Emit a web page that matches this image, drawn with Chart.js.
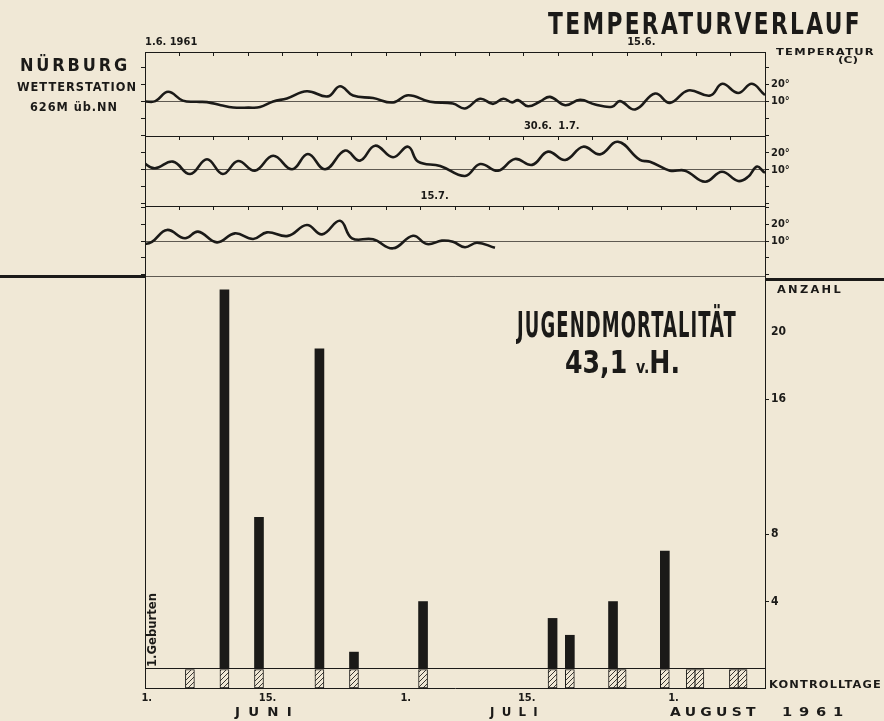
<!DOCTYPE html>
<html>
<head>
<meta charset="utf-8">
<script src="https://cdn.jsdelivr.net/npm/chart.js@4.4.1/dist/chart.umd.min.js"></script>
<style>
    body { margin: 0; background: #f0e8d6; }
    #page { position: relative; width: 884px; height: 721px; overflow: hidden; background: #f0e8d6; color: #1b1a18; }
    canvas { position: absolute; left: 0; }
    .t { position: absolute; white-space: nowrap; line-height: 1; font-weight: bold; transform-origin: 0 0; }
    .narrow { font-family: "Liberation Sans Narrow", "DejaVu Sans Condensed", "Roboto Condensed", sans-serif; }
    .wide { font-family: "DejaVu Sans", Verdana, sans-serif; }
    .bar-line { position: absolute; background: #1b1a18; }
</style>
</head>
<body>
<div id="page">
    <canvas id="row1"></canvas>
    <canvas id="row2"></canvas>
    <canvas id="row3"></canvas>
    <canvas id="bars"></canvas>

    <div class="bar-line" style="left:0;top:274.5px;width:145px;height:3px"></div>
    <div class="bar-line" style="left:765px;top:277.5px;width:119px;height:3px"></div>

    <div class="t narrow" data-w="314" style="left:548px;top:8px;font-size:31px;letter-spacing:3px">TEMPERATURVERLAUF</div>
    <div class="t narrow" data-w="220" style="left:517px;top:307px;font-size:36px;letter-spacing:2px">JUGENDMORTALITÄT</div>
    <div class="t narrow" data-w="115" style="left:565px;top:346px;font-size:32px">43,1 <span style="font-size:18px">v.</span>H.</div>

    <div class="t wide" data-w="110" style="left:20px;top:57px;font-size:17px;letter-spacing:3px">NÜRBURG</div>
    <div class="t wide" data-w="120" style="left:17px;top:82px;font-size:11.5px;letter-spacing:1px">WETTERSTATION</div>
    <div class="t wide" data-w="88" style="left:30px;top:102px;font-size:11.5px;letter-spacing:1px">626M üb.NN</div>

    <div class="t wide" data-w="99" style="left:776px;top:48px;font-size:9px;letter-spacing:1px">TEMPERATUR</div>
    <div class="t wide" data-w="20" style="left:838px;top:56px;font-size:9px">(C)</div>
    <div class="t wide" data-w="66" style="left:777px;top:285px;font-size:10px;letter-spacing:2px">ANZAHL</div>
    <div class="t wide" data-w="113" style="left:769px;top:680px;font-size:10px;letter-spacing:1px">KONTROLLTAGE</div>

    <div class="t wide" data-w="65" style="left:235px;top:705px;font-size:13px;letter-spacing:8px">JUNI</div>
    <div class="t wide" data-w="55" style="left:490px;top:705px;font-size:13px;letter-spacing:8px">JULI</div>
    <div class="t wide" data-w="90" style="left:670px;top:705px;font-size:13px;letter-spacing:4px">AUGUST</div>
    <div class="t wide" data-w="68" style="left:782px;top:705px;font-size:13px;letter-spacing:6px">1961</div>

    <div class="t wide" data-w="74" data-rot="1" style="left:147px;top:667px;font-size:11.5px">1.Geburten</div>
</div>

<script>
// day numbers: 1 = 1. Juni 1961
const tempDays = [
    1.0, 1.3, 1.67, 2.1, 2.5, 2.8, 3.2, 3.56, 4.0, 4.34, 4.72, 5.12, 5.7, 6.31, 6.66, 7.04, 7.62, 8.2, 8.64, 9.28,
    9.94, 10.29, 10.73, 11.1, 11.4, 11.66, 11.83, 12.12, 12.47, 12.76, 13.2, 13.63, 14.07, 14.56, 14.79, 15.23, 15.81, 16.24, 16.77, 17.41,
    17.76, 18.22, 18.62, 19.0, 19.29, 19.81, 20.31, 20.8, 21.26, 21.7, 22.19, 22.72, 23.27, 23.73, 24.23, 24.81, 25.24, 25.68, 26.2, 26.64,
    26.93, 27.57, 28.29, 28.73, 29.25, 29.74, 30.24, 30.7, 31.2, 31.72, 32.21, 32.73, 33.37, 33.66, 34.24, 34.68, 35.26, 35.75, 36.22, 36.51,
    36.77, 37.0, 37.2, 37.64, 38.16, 38.54, 39.09, 39.61, 40.14, 40.54, 41.15, 41.7, 42.14, 42.66, 43.01, 43.62, 44.2, 44.78, 45.19, 45.62,
    45.94, 46.29, 46.64, 47.16
];
const tempValues = [
    10, 10.2, 15.7, 10.5, 9.8, 9.6, 7.8, 6.5, 6.4, 6.7, 10, 11.8, 16, 13, 19, 13.5, 12, 9.4, 13.7, 9.8,
    8.8, 5.9, 11.6, 8.6, 11.6, 9.5, 10.8, 7.2, 10, 12.7, 7.8, 11, 8.2, 6.9, 10.2, 5.3, 14.7, 9.2, 16.5, 13.5,
    20.4, 15, 20.4, 13.8, 11, 14.9, 7.6, 16.3, 7.6, 15.3, 9.6, 18.4, 10.4, 19.4, 10.4, 21.4, 15.5, 24.3, 17.5, 23.7,
    14.9, 12.4, 6.5, 13.5, 9.6, 16.5, 13, 20.8, 15.9, 23.7, 19.2, 26.6, 15.9, 14.9, 9.6, 9.6, 3.1, 9, 3.5, 6,
    12, 8.5, 9.5, 16.5, 11.6, 15.5, 9.2, 14.5, 11.2, 15.1, 13, 19.4, 13.9, 21.9, 11.6, 11, 5.7, 13.1, 8.2, 10.2,
    9.5, 6.3, 9, 6
];
const tempRowStart = [1, 19, 37];
const tempRowEnd = [19, 37, 55];
const tempLabelDays = [1, 15, 30, 31, 45];
const tempLabelTexts = ['1.6. 1961', '15.6.', '30.6.', '1.7.', '15.7.'];
const tempTicks = [-10, 0, 10, 20, 30];
const tempLabelValues = [10, 20];

const barDays = [10, 14, 21, 25, 33, 48, 50, 55, 61];
const barCounts = [22.5, 9, 19, 1, 4, 3, 2, 4, 7];
const controlDays = [6, 10, 14, 21, 25, 33, 48, 50, 55, 56, 61, 64, 65, 69, 70];
const countTicks = [4, 8, 16, 20];
const dateTickDays = [1, 15, 31, 45, 62];
const dateTickLabels = ['1.', '15.', '1.', '15.', '1.'];

const INK = '#1b1a18';
const GRAY = '#5f5a52';
const BG = '#f0e8d6';
const NARROW = '"Liberation Sans Narrow", "DejaVu Sans Condensed", "Roboto Condensed", sans-serif';

// canvas placement of the three temperature strips
const rowBoxes = [
    { top: 30, height: 120, areaTop: 52, areaBottom: 136, yMin: -10.3, yMax: 39.1 },
    { top: 110, height: 110, areaTop: 136, areaBottom: 206, yMin: -11.2, yMax: 30 },
    { top: 180, height: 110, areaTop: 206, areaBottom: 276, yMin: -10.6, yMax: 30.6 },
];

Chart.defaults.font.family = NARROW;
Chart.defaults.color = INK;

function baseOptions() {
    return {
        responsive: false,
        animation: false,
        events: [],
        layout: { padding: 0 },
        plugins: { legend: { display: false }, tooltip: { enabled: false } },
    };
}

function makeTempRow(canvasId, r) {
    const lo = tempRowStart[r];
    const hi = tempRowEnd[r];
    const box = rowBoxes[r];
    const points = tempDays
        .map((d, i) => ({ x: d, y: tempValues[i] }))
        .filter((p) => p.x >= lo - 0.7 && p.x <= hi + 0.7);

    const cv = document.getElementById(canvasId);
    cv.width = 884;
    cv.height = box.height;
    cv.style.top = box.top + 'px';

    const dayTicks = [];
    for (let d = lo; d <= hi; d++) dayTicks.push({ value: d });

    return new Chart(cv, {
        type: 'line',
        data: {
            datasets: [
                {
                    data: points,
                    xAxisID: 'x',
                    yAxisID: 'y',
                    borderColor: INK,
                    borderWidth: 2.6,
                    pointRadius: 0,
                    tension: 0.42,
                    fill: false,
                },
            ],
        },
        options: {
            ...baseOptions(),
            scales: {
                x: {
                    type: 'linear',
                    position: 'top',
                    min: lo,
                    max: hi,
                    offset: false,
                    afterFit: (s) => { s.height = box.areaTop - box.top; },
                    afterBuildTicks: (s) => { s.ticks = dayTicks.slice(); },
                    grid: { drawOnChartArea: false, tickLength: -4, tickColor: INK, lineWidth: 1 },
                    border: { color: INK, width: 1 },
                    ticks: {
                        autoSkip: false,
                        maxRotation: 0,
                        align: 'start',
                        padding: 7,
                        color: INK,
                        font: { size: 11, weight: 'bold' },
                        callback: (v) => {
                            const k = tempLabelDays.indexOf(v);
                            return k >= 0 && v >= lo && v < hi ? tempLabelTexts[k] : '';
                        },
                    },
                },
                xb: {
                    type: 'linear',
                    position: 'bottom',
                    min: lo,
                    max: hi,
                    afterFit: (s) => { s.height = box.top + box.height - box.areaBottom; },
                    grid: { drawOnChartArea: false, drawTicks: false },
                    border: { color: GRAY, width: 1 },
                    ticks: { display: false },
                },
                y: {
                    position: 'right',
                    min: box.yMin,
                    max: box.yMax,
                    afterFit: (s) => { s.width = 884 - 765; },
                    afterBuildTicks: (s) => {
                        s.ticks = tempTicks.filter((v) => v > box.yMin && v < box.yMax).map((v) => ({ value: v }));
                    },
                    grid: {
                        color: (ctx) => (ctx.tick && ctx.tick.value === 10 ? GRAY : 'rgba(0,0,0,0)'),
                        tickColor: INK,
                        tickLength: 4,
                        lineWidth: 1,
                    },
                    border: { color: INK, width: 1 },
                    ticks: {
                        padding: 2,
                        color: INK,
                        font: { size: 11, weight: 'bold' },
                        callback: (v) => (tempLabelValues.includes(v) ? v + '°' : ''),
                    },
                },
                yl: {
                    position: 'left',
                    min: box.yMin,
                    max: box.yMax,
                    afterFit: (s) => { s.width = 145; },
                    afterBuildTicks: (s) => {
                        s.ticks = tempTicks.filter((v) => v > box.yMin && v < box.yMax).map((v) => ({ value: v }));
                    },
                    grid: { drawOnChartArea: false, tickLength: 4, tickColor: INK },
                    border: { color: INK, width: 1 },
                    ticks: { callback: () => '' },
                },
            },
        },
    });
}

function hatchPattern() {
    const c = document.createElement('canvas');
    c.width = 5;
    c.height = 5;
    const g = c.getContext('2d');
    g.fillStyle = BG;
    g.fillRect(0, 0, 5, 5);
    g.strokeStyle = '#3a3632';
    g.lineWidth = 1;
    g.beginPath();
    g.moveTo(0, 5); g.lineTo(5, 0);
    g.moveTo(-1, 1); g.lineTo(1, -1);
    g.moveTo(4, 6); g.lineTo(6, 4);
    g.stroke();
    return g.createPattern(c, 'repeat');
}

function makeBarChart() {
    const cv = document.getElementById('bars');
    cv.width = 884;
    cv.height = 455;
    cv.style.top = '266px';

    const yMin = -1.13;
    const yMax = 23.32;
    const xMin = 0.8;
    const xMax = 72.6;

    return new Chart(cv, {
        type: 'bar',
        data: {
            datasets: [
                {
                    label: 'Anzahl',
                    data: barDays.map((d, i) => ({ x: d, y: barCounts[i] })),
                    xAxisID: 'x',
                    yAxisID: 'y',
                    backgroundColor: INK,
                    barThickness: 9,
                    grouped: false,
                },
                {
                    label: 'Kontrolltage',
                    data: controlDays.map((d) => ({ x: d, y: [yMin, 0] })),
                    xAxisID: 'x',
                    yAxisID: 'y',
                    backgroundColor: hatchPattern(),
                    borderColor: INK,
                    borderWidth: 1,
                    borderSkipped: false,
                    barThickness: 9,
                    grouped: false,
                },
            ],
        },
        options: {
            ...baseOptions(),
            scales: {
                x: {
                    type: 'linear',
                    position: 'bottom',
                    min: xMin,
                    max: xMax,
                    offset: false,
                    afterFit: (s) => { s.height = 33; },
                    afterBuildTicks: (s) => { s.ticks = dateTickDays.map((v) => ({ value: v })); },
                    grid: { drawOnChartArea: false, drawTicks: false, offset: false },
                    border: { color: INK, width: 1 },
                    ticks: {
                        autoSkip: false,
                        maxRotation: 0,
                        padding: 4,
                        color: INK,
                        font: { size: 11, weight: 'bold' },
                        callback: (v) => {
                            const k = dateTickDays.indexOf(v);
                            return k >= 0 ? dateTickLabels[k] : '';
                        },
                    },
                },
                xt: {
                    type: 'linear',
                    position: 'top',
                    min: xMin,
                    max: xMax,
                    afterFit: (s) => { s.height = 10; },
                    grid: { drawOnChartArea: false, drawTicks: false },
                    border: { color: GRAY, width: 1 },
                    ticks: { display: false },
                },
                y: {
                    position: 'right',
                    min: yMin,
                    max: yMax,
                    afterFit: (s) => { s.width = 884 - 765; },
                    afterBuildTicks: (s) => { s.ticks = [0, ...countTicks].map((v) => ({ value: v })); },
                    grid: {
                        color: (ctx) => (ctx.tick && ctx.tick.value === 0 ? INK : 'rgba(0,0,0,0)'),
                        tickColor: (ctx) => (ctx.tick && (ctx.tick.value === 0 || ctx.tick.value === 20) ? 'rgba(0,0,0,0)' : INK),
                        tickLength: 4,
                        lineWidth: 1,
                    },
                    border: { color: INK, width: 1 },
                    ticks: {
                        padding: 2,
                        color: INK,
                        font: { size: 12, weight: 'bold' },
                        callback: (v) => (countTicks.includes(v) ? String(v) : ''),
                    },
                },
                yl: {
                    position: 'left',
                    min: yMin,
                    max: yMax,
                    afterFit: (s) => { s.width = 145; },
                    grid: { drawOnChartArea: false, drawTicks: false },
                    border: { color: INK, width: 1 },
                    ticks: { display: false },
                },
            },
        },
    });
}

function fitTexts() {
    document.querySelectorAll('[data-w]').forEach((el) => {
        const w = el.getBoundingClientRect().width;
        const s = Number(el.dataset.w) / w;
        el.style.transform = (el.dataset.rot ? 'rotate(-90deg) ' : '') + `scaleX(${s.toFixed(3)})`;
    });
}

makeTempRow('row1', 0);
makeTempRow('row2', 1);
makeTempRow('row3', 2);
makeBarChart();
fitTexts();
</script>
</body>
</html>
